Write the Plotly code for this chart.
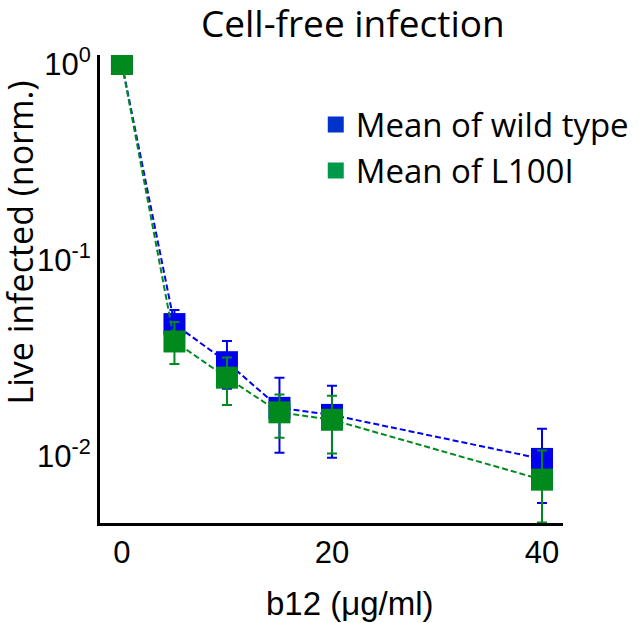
import plotly.graph_objects as go

# Data
dose = [0, 5, 10, 15, 20, 40]
wt_mean = [1.0, 0.0471, 0.0301, 0.0176, 0.0162, 0.00966]
wt_err_plus = [0.0, 0.0085, 0.0085, 0.0075, 0.0066, 0.0041]
wt_err_minus = [0.0, 0.0085, 0.0081, 0.0072, 0.0064, 0.0039]
l100i_mean = [1.0, 0.0384, 0.0251, 0.0167, 0.0153, 0.00757]
l100i_err_plus = [0.0, 0.0099, 0.0067, 0.0039, 0.0050, 0.0031]
l100i_err_minus = [0.0, 0.0089, 0.0069, 0.0043, 0.0050, 0.0030]

x_ticks = [0, 20, 40]
y_ticks = [1, 0.1, 0.01]
y_ticktext = ["10<sup>0</sup>", "10<sup>-1</sup>", "10<sup>-2</sup>"]

series_names = ["Mean of wild type", "Mean of L100I"]
title_text = "Cell-free infection"
x_title = "b12 (μg/ml)"
y_title = "Live infected (norm.)"

BLUE = "#0000f0"
GREEN = "#008a1e"
BLUE_LEG = "#0033cc"
GREEN_LEG = "#00994c"

SANS = "Open Sans, Lato, sans-serif"
ARIAL = "Liberation Sans, Arial, sans-serif"

fig = go.Figure()

for mean, ep, em, col in [
    (wt_mean, wt_err_plus, wt_err_minus, BLUE),
    (l100i_mean, l100i_err_plus, l100i_err_minus, GREEN),
]:
    fig.add_trace(go.Scatter(
        x=dose, y=mean, mode="lines+markers", showlegend=False,
        line=dict(color=col, width=2, dash="6px,3px"),
        marker=dict(symbol="square", size=22, color=col, line=dict(width=0)),
        error_y=dict(type="data", symmetric=False, array=ep, arrayminus=em,
                     color=col, thickness=2, width=5),
    ))

for name, col in zip(series_names, [BLUE_LEG, GREEN_LEG]):
    fig.add_trace(go.Scatter(
        x=[None], y=[None], mode="markers", name=name,
        marker=dict(symbol="square", size=22, color=col),
    ))

fig.update_layout(
    width=638, height=623,
    margin=dict(l=100, r=75, t=55, b=100, autoexpand=False),
    paper_bgcolor="white", plot_bgcolor="white",
    title=dict(text=title_text, x=0.553, xanchor="center", y=0.961, yanchor="middle",
               font=dict(family=SANS, size=37, color="black")),
    legend=dict(x=0.466, y=0.911, xanchor="left", yanchor="top",
                font=dict(family=SANS, size=33, color="black"),
                bgcolor="rgba(0,0,0,0)", tracegroupgap=0, itemsizing="trace"),
    showlegend=True,
    annotations=[
        dict(text=y_title, xref="paper", yref="paper", x=-0.172, y=0.600,
             xanchor="center", yanchor="middle", textangle=-90, showarrow=False,
             font=dict(family=SANS, size=34, color="black")),
        dict(text=x_title, xref="paper", yref="paper", x=0.54, y=-0.171,
             xanchor="center", yanchor="middle", showarrow=False,
             font=dict(family=ARIAL, size=33, color="black")),
    ],
)

fig.update_xaxes(
    range=[-2.09, 42.0], tickvals=x_ticks, ticktext=[str(v) for v in x_ticks],
    showgrid=False, zeroline=False, showline=True, linecolor="black", linewidth=3,
    ticks="", automargin=False,
    tickfont=dict(family=ARIAL, size=31, color="black"),
)
fig.update_yaxes(
    type="log", range=[-2.342, 0.046], tickvals=y_ticks, ticktext=y_ticktext,
    showgrid=False, zeroline=False, showline=True, linecolor="black", linewidth=3,
    ticks="", automargin=False,
    tickfont=dict(family=ARIAL, size=31, color="black"),
)

fig.write_html(
    "out.html",
    config={"displayModeBar": False},
    post_script="document.body.style.margin='0px';document.body.style.overflow='hidden';",
)
